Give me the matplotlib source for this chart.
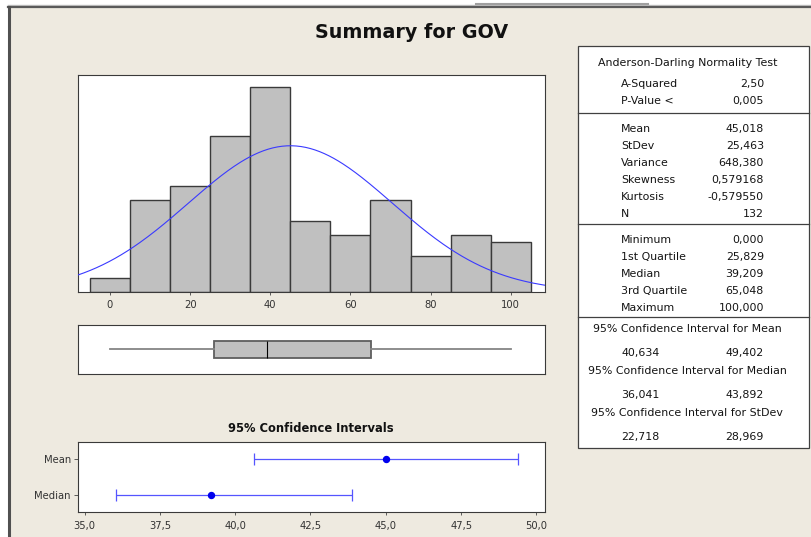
import numpy as np
import matplotlib
matplotlib.use("Agg")
import matplotlib.pyplot as plt
from matplotlib.patches import Rectangle

# histogram of GOV (bin width 10)
bin_centers = [0, 10, 20, 30, 40, 50, 60, 70, 80, 90, 100]
counts = [2, 13, 15, 22, 29, 10, 8, 13, 5, 8, 7]

# summary statistics
mean, stdev, n = 45.018, 25.463, 132
five_num = [0.000, 25.829, 39.209, 65.048, 100.000]  # min, q1, median, q3, max
ci_labels = ["Mean", "Median"]
ci_centers = [45.018, 39.209]
ci_low = [40.634, 36.041]
ci_high = [49.402, 43.892]

ad_rows = [("A-Squared", "2,50"), ("P-Value <", "0,005")]
moment_rows = [("Mean", "45,018"), ("StDev", "25,463"), ("Variance", "648,380"),
               ("Skewness", "0,579168"), ("Kurtosis", "-0,579550"), ("N", "132")]
quart_rows = [("Minimum", "0,000"), ("1st Quartile", "25,829"), ("Median", "39,209"),
              ("3rd Quartile", "65,048"), ("Maximum", "100,000")]
ci_rows = [("95% Confidence Interval for Mean", "40,634", "49,402"),
           ("95% Confidence Interval for Median", "36,041", "43,892"),
           ("95% Confidence Interval for StDev", "22,718", "28,969")]

hist_ticks = [0, 20, 40, 60, 80, 100]
ci_ticks = [35.0, 37.5, 40.0, 42.5, 45.0, 47.5, 50.0]

BG = "#eeeae0"
W, H = 811, 537
plt.rcParams["font.family"] = "DejaVu Sans"

fig = plt.figure(figsize=(W / 100, H / 100), dpi=100)
fig.patch.set_facecolor("white")


def px_axes(l, t, r, b, **kw):
    return fig.add_axes([l / W, 1 - b / H, (r - l) / W, (b - t) / H], **kw)


# background layer, frame, title and the stats table
ov = px_axes(0, 0, W, H, zorder=-1)
ov.set_xlim(0, W)
ov.set_ylim(H, 0)
ov.axis("off")
ov.add_patch(Rectangle((9, 7), W, H, facecolor=BG, edgecolor="none"))
ov.plot([8, W], [4.8, 4.8], color="#c4c4c4", lw=1.0)
ov.plot([476, 648], [4.0, 4.0], color="#a0a0a0", lw=1.5)
ov.plot([8, W], [7.2, 7.2], color="#5a5a5a", lw=1.6)
ov.plot([9.2, 9.2], [6.5, H], color="#505050", lw=2.2)

ov.text(412, 37.5, "Summary for GOV", ha="center", va="baseline",
        fontsize=13.8, fontweight="bold", color="#111111")

ov.add_patch(Rectangle((577.5, 45.7), 231.5, 402.3, facecolor="white",
                       edgecolor="#404040", lw=0.9))
for y in [112.7, 224.3, 317.3]:
    ov.plot([577.5, 809], [y, y], color="#404040", lw=0.9)

fs = 7.9
tc = "#141414"
ov.text(687.5, 63.3, "Anderson-Darling Normality Test", ha="center", va="center", fontsize=fs, color=tc)
for rows, y0 in [(ad_rows, 84.3), (moment_rows, 128.7), (quart_rows, 240.0)]:
    for i, (lab, val) in enumerate(rows):
        y = y0 + i * 17.0
        ov.text(621, y, lab, ha="left", va="center", fontsize=fs, color=tc)
        ov.text(764, y, val, ha="right", va="center", fontsize=fs, color=tc)
for i, (lab, lo, hi) in enumerate(ci_rows):
    y = 329.3 + i * 42.0
    ov.text(687, y, lab, ha="center", va="center", fontsize=fs, color=tc)
    ov.text(621, y + 23.5, lo, ha="left", va="center", fontsize=fs, color=tc)
    ov.text(764, y + 23.5, hi, ha="right", va="center", fontsize=fs, color=tc)

# histogram with fitted normal curve
xlo, xhi = -8.06, 108.44
ax = px_axes(77.7, 74.7, 544.5, 291.7)
ax.bar(bin_centers, counts, width=10, facecolor="#c0c0c0", edgecolor="#3a3a3a", lw=1.0, zorder=2)
xs = np.linspace(xlo, xhi, 300)
pdf = np.exp(-0.5 * ((xs - mean) / stdev) ** 2) / (stdev * np.sqrt(2 * np.pi))
ax.plot(xs, pdf * n * 10, color="#3a3aff", lw=0.8, zorder=3)
ax.set_xlim(xlo, xhi)
ax.set_ylim(0, 30.75)
ax.set_yticks([])
ax.set_xticks(hist_ticks)
ax.set_xticklabels([str(t) for t in hist_ticks])
ax.tick_params(axis="x", length=2.5, width=0.6, pad=3.5, labelsize=7.2, colors="#444444", labelcolor="#333333")

# boxplot
bx = px_axes(77.9, 324.7, 544.6, 374.0)
stats = [dict(whislo=five_num[0], q1=five_num[1], med=five_num[2], q3=five_num[3],
              whishi=five_num[4], fliers=[])]
bx.bxp(stats, positions=[0.5], widths=0.345, vert=False, patch_artist=True, showcaps=False,
       boxprops=dict(facecolor="#c0c0c0", edgecolor="#5e5e5e", lw=1.3),
       whiskerprops=dict(color="#858585", lw=1.3),
       medianprops=dict(color="black", lw=0.8))
bx.set_xlim(xlo, xhi)
bx.set_ylim(0, 1)
bx.set_xticks([])
bx.set_yticks([])

# confidence interval panel
cx = px_axes(77.9, 441.7, 544.6, 512.3)
ypos = [1.5, 0.5]
for y, c, lo, hi in zip(ypos, ci_centers, ci_low, ci_high):
    cx.errorbar([c], [y], xerr=[[c - lo], [hi - c]], fmt="none", ecolor="#5555ff",
                elinewidth=0.9, capsize=4, capthick=0.9)
    cx.plot([c], [y], "o", color="#0000ee", ms=4.3)
cx.set_xlim(34.78, 50.27)
cx.set_ylim(0, 2)
cx.set_yticks(ypos)
cx.set_yticklabels(ci_labels)
cx.set_xticks(ci_ticks)
cx.set_xticklabels([f"{t:.1f}".replace(".", ",") for t in ci_ticks])
cx.tick_params(axis="x", length=2.5, width=0.6, pad=3.5, labelsize=7.2, colors="#444444", labelcolor="#333333")
cx.tick_params(axis="y", length=3, width=0.6, pad=2, labelsize=7.2, colors="#444444", labelcolor="#333333")
cx.set_title("95% Confidence Intervals", fontsize=8.3, fontweight="bold", color="#111111", pad=7)

for a in [ax, bx, cx]:
    for s in a.spines.values():
        s.set_color("#3a3a3a")
        s.set_linewidth(0.8)

fig.savefig("out.png", dpi=100, facecolor="white")
